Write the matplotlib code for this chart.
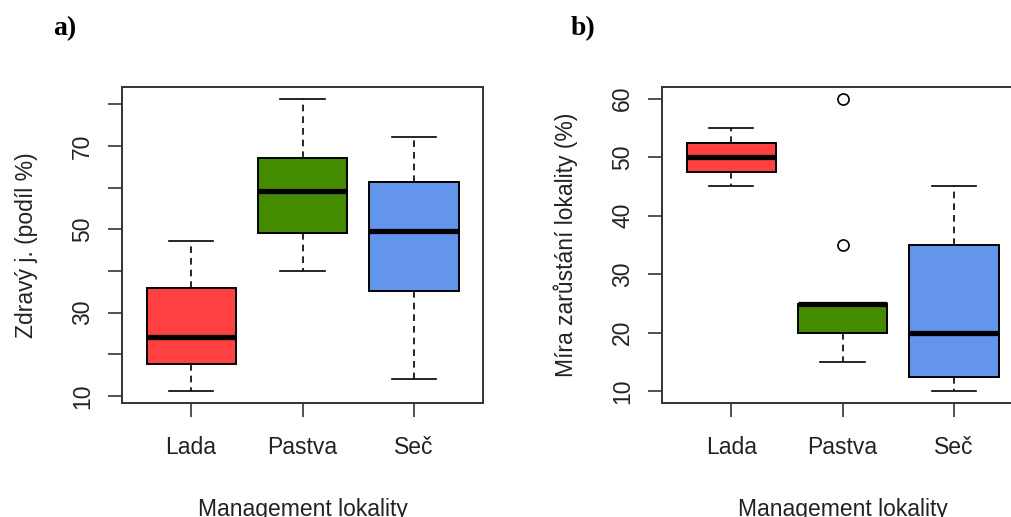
import matplotlib
matplotlib.use("Agg")
import matplotlib.pyplot as plt

# Data (box statistics)
categories = ["Lada", "Pastva", "Seč"]
colors = ["#FF4040", "#458B00", "#6495ED"]

# a) Zdravy j. (podil %)
a_whislo = [11.1, 40.1, 14.0]
a_q1 = [17.6, 49.2, 35.1]
a_med = [24.2, 59.2, 49.6]
a_q3 = [35.9, 67.1, 61.3]
a_whishi = [47.1, 81.4, 72.2]
a_fliers = [[], [], []]

# b) Mira zarustani lokality (%)
b_whislo = [45.0, 15.0, 10.0]
b_q1 = [47.5, 20.0, 12.5]
b_med = [50.0, 25.0, 20.0]
b_q3 = [52.5, 25.0, 35.0]
b_whishi = [55.0, 25.0, 45.0]
b_fliers = [[], [60.0, 35.0], []]

plt.rcParams["font.family"] = ["Liberation Sans", "DejaVu Sans"]
txt = "#222222"
line = "#333333"


def make_stats(whislo, q1, med, q3, whishi, fliers):
    stats = []
    for i in range(len(categories)):
        stats.append(dict(whislo=whislo[i], q1=q1[i], med=med[i], q3=q3[i],
                          whishi=whishi[i], fliers=fliers[i]))
    return stats


def draw_panel(ax, stats, ylim, yticks, ytick_labels, ylabel):
    bp = ax.bxp(stats, positions=[1, 2, 3], widths=0.8, capwidths=0.4,
                patch_artist=True, showfliers=True,
                boxprops=dict(edgecolor="black", linewidth=1.4),
                medianprops=dict(color="black", linewidth=3.8, solid_capstyle="butt"),
                whiskerprops=dict(color="black", linewidth=1.2, linestyle=(0, (4, 3))),
                capprops=dict(color="black", linewidth=1.2),
                flierprops=dict(marker="o", markerfacecolor="none",
                                markeredgecolor="black", markersize=8,
                                markeredgewidth=1.2))
    for patch, c in zip(bp["boxes"], colors):
        patch.set_facecolor(c)
    ax.set_xlim(0.38, 3.62)
    ax.set_ylim(*ylim)
    ax.set_xticks([1, 2, 3])
    ax.set_xticklabels(categories)
    ax.set_yticks(yticks)
    ax.set_yticklabels(ytick_labels, rotation=90, va="center")
    ax.tick_params(axis="both", length=10, width=1.2, color=line,
                   labelsize=16.5, labelcolor=txt)
    ax.tick_params(axis="y", pad=10)
    ax.tick_params(axis="x", pad=14)
    for sp in ax.spines.values():
        sp.set_color(line)
        sp.set_linewidth(1.4)
    ax.set_xlabel("Management lokality", fontsize=16.5, color=txt, labelpad=28)
    ax.set_ylabel(ylabel, fontsize=16.5, color=txt, labelpad=24)


fig = plt.figure(figsize=(10.12, 5.17), dpi=100)
fig.patch.set_facecolor("white")

ax1 = fig.add_axes([0.1206, 0.2205, 0.3567, 0.6112])
ax2 = fig.add_axes([0.6542, 0.2205, 0.3567, 0.6112])

a_ticks = [10, 20, 30, 40, 50, 60, 70, 80]
a_labels = ["10", "", "30", "", "50", "", "70", ""]
draw_panel(ax1, make_stats(a_whislo, a_q1, a_med, a_q3, a_whishi, a_fliers),
           (8.3, 84.2), a_ticks, a_labels, "Zdravý j. (podíl %)")

b_ticks = [10, 20, 30, 40, 50, 60]
b_labels = ["10", "20", "30", "40", "50", "60"]
draw_panel(ax2, make_stats(b_whislo, b_q1, b_med, b_q3, b_whishi, b_fliers),
           (8.0, 62.0), b_ticks, b_labels, "Míra zarůstání lokality (%)")

fig.text(65 / 1012, 1 - 29 / 517, "a)", fontsize=20, fontweight="bold",
         family=["Liberation Serif", "DejaVu Serif"], ha="center", va="center")
fig.text(583 / 1012, 1 - 29 / 517, "b)", fontsize=20, fontweight="bold",
         family=["Liberation Serif", "DejaVu Serif"], ha="center", va="center")

fig.savefig("out.png", dpi=100, facecolor="white")
